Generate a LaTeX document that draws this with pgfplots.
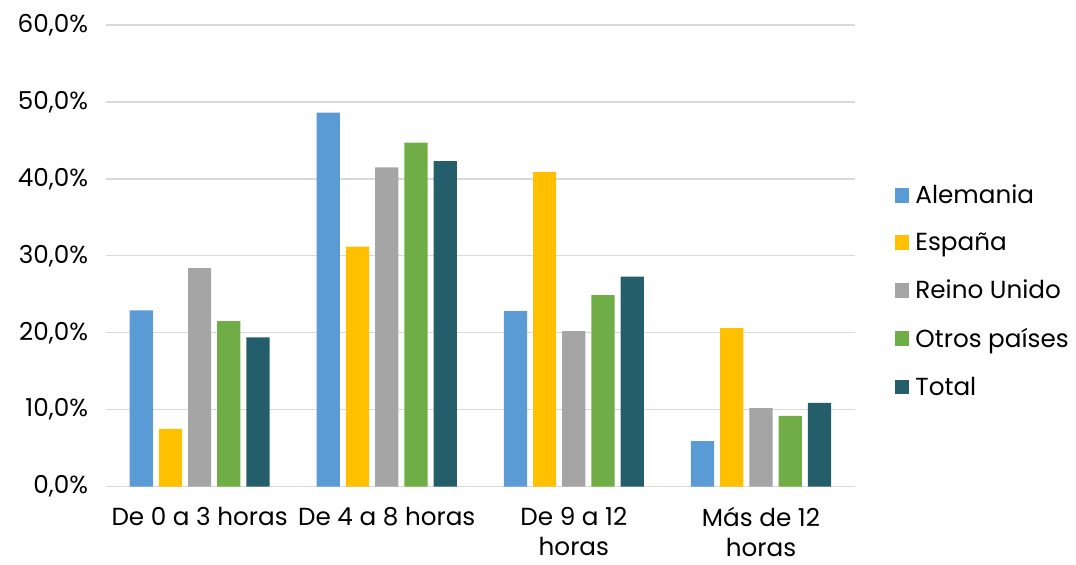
\documentclass[border=0pt]{standalone}
\usepackage{pgfplots}
\pgfplotsset{compat=1.18}
\usepackage{fontspec}
\setmainfont{Poppins}
\definecolor{cAle}{HTML}{5B9BD5}
\definecolor{cEsp}{HTML}{FFC000}
\definecolor{cRei}{HTML}{A5A5A5}
\definecolor{cOtr}{HTML}{70AD47}
\definecolor{cTot}{HTML}{255E6B}
\definecolor{cGrid}{HTML}{D9D9D9}
\begin{document}
\begin{tikzpicture}
\path[use as bounding box] (-79.5pt,-58.5pt) rectangle (727pt,364.75pt);
\begin{axis}[
  at={(0,0)}, anchor=south west,
  scale only axis, width=561pt, height=346pt,
  ybar=4.5pt, bar width=17.4pt,
  xmin=-0.5, xmax=3.5, ymin=0, ymax=60,
  xtick={0,1,2,3},
  xticklabels={De 0 a 3 horas, De 4 a 8 horas, {De 9 a 12\\horas}, {Más de 12\\horas}},
  xticklabel style={align=center, font=\fontsize{18.5}{22.5}\selectfont, yshift=-12pt},
  ytick={0,10,...,60},
  yticklabel={\pgfmathprintnumber[fixed,fixed zerofill,precision=1,use comma]{\tick}\%},
  yticklabel style={font=\fontsize{18.5}{22}\selectfont, xshift=-10pt},
  /pgf/number format/assume math mode=true,
  ymajorgrids, grid style={cGrid, line width=1pt},
  axis x line*=bottom, axis y line*=left,
  x axis line style={cGrid, line width=1pt, -},
  y axis line style={draw=none},
  major tick length=0pt,
  legend style={draw=none, at={(1.048,0.66)}, anchor=north west,
    font=\fontsize{18.5}{22}\selectfont, row sep=20.5pt,
    nodes={inner xsep=4.5pt, inner ysep=0pt}},
  legend cell align=left,
  legend image code/.code={\fill[#1,draw=none] (0pt,-5.5pt) rectangle (11pt,5.5pt);},
  clip=false,
]
\addplot[fill=cAle, draw=none] coordinates {(0,22.9) (1,48.6) (2,22.8) (3,5.9)};
\addplot[fill=cEsp, draw=none] coordinates {(0,7.5) (1,31.2) (2,40.9) (3,20.6)};
\addplot[fill=cRei, draw=none] coordinates {(0,28.4) (1,41.5) (2,20.2) (3,10.2)};
\addplot[fill=cOtr, draw=none] coordinates {(0,21.5) (1,44.7) (2,24.9) (3,9.2)};
\addplot[fill=cTot, draw=none] coordinates {(0,19.4) (1,42.3) (2,27.3) (3,10.9)};
\legend{Alemania, España, Reino Unido, Otros países, Total}
\end{axis}
\end{tikzpicture}
\end{document}
